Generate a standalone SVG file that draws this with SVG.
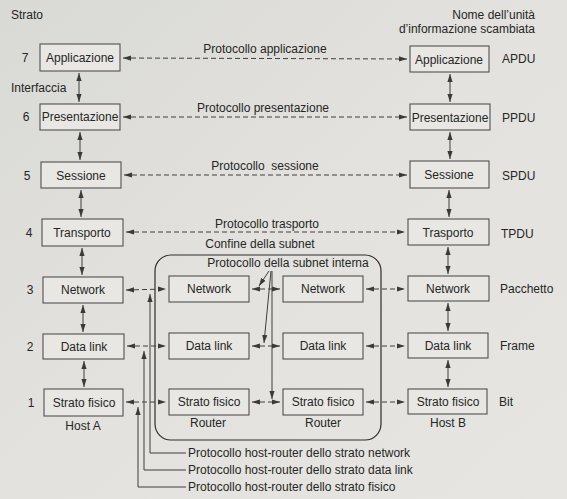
<svg xmlns="http://www.w3.org/2000/svg" width="567" height="499" viewBox="0 0 567 499">
<defs>
<linearGradient id="bg" x1="0" y1="0" x2="1" y2="1">
<stop offset="0" stop-color="#d9d9d5"/>
<stop offset="0.5" stop-color="#e3e2de"/>
<stop offset="1" stop-color="#e6e5e1"/>
</linearGradient>
<marker id="ah" viewBox="0 0 8 6" refX="8" refY="3" markerWidth="8" markerHeight="6" markerUnits="userSpaceOnUse" orient="auto-start-reverse">
<path d="M0,0.4 L8,3 L0,5.6 z" fill="#3a3a3a"/>
</marker>
<style>
text{font-family:"Liberation Sans",Arial,sans-serif;font-size:12px;fill:#262626}
.box{fill:#e8e7e3;stroke:#505050;stroke-width:1.1}
.bt{text-anchor:middle}
.dash{stroke:#3e3e3e;stroke-width:1;stroke-dasharray:5 3;fill:none;marker-start:url(#ah);marker-end:url(#ah)}
.sol{stroke:#3e3e3e;stroke-width:1;fill:none}
.dbl{marker-start:url(#ah);marker-end:url(#ah)}
.one{marker-end:url(#ah)}
.num{text-anchor:middle}
</style>
</defs>
<rect x="0" y="0" width="567" height="499" fill="url(#bg)"/>

<g id="headings">
<text x="11" y="19">Strato</text>
<text x="11" y="92">Interfaccia</text>
<text x="535" y="19" text-anchor="end">Nome dell’unità</text>
<text x="535" y="33" text-anchor="end">d’informazione scambiata</text>
<text class="num" x="25" y="62">7</text>
<text class="num" x="26" y="121">6</text>
<text class="num" x="27" y="180">5</text>
<text class="num" x="29" y="237">4</text>
<text class="num" x="30" y="294">3</text>
<text class="num" x="30" y="351">2</text>
<text class="num" x="31" y="407">1</text>
<text x="502" y="63">APDU</text>
<text x="502" y="122">PPDU</text>
<text x="502" y="180">SPDU</text>
<text x="501" y="238">TPDU</text>
<text x="500" y="293">Pacchetto</text>
<text x="500" y="350">Frame</text>
<text x="499" y="406">Bit</text>
</g>

<g id="subnet">
<rect x="155" y="255" width="226" height="185" rx="16" ry="16" fill="none" stroke="#2e2e2e" stroke-width="1.2"/>
<text class="bt" x="260" y="248">Confine della subnet</text>
<text class="bt" x="288" y="267">Protocollo della subnet interna</text>
</g>

<g id="hostA">
<g id="a7"><rect class="box" x="40" y="44" width="80" height="27"/><text class="bt" x="80" y="62">Applicazione</text></g>
<g id="a6"><rect class="box" x="40" y="104" width="80" height="26"/><text class="bt" x="80" y="121">Presentazione</text></g>
<g id="a5"><rect class="box" x="41" y="162" width="80" height="26"/><text class="bt" x="81" y="180">Sessione</text></g>
<g id="a4"><rect class="box" x="42" y="219" width="81" height="27"/><text class="bt" x="82" y="237">Transporto</text></g>
<g id="a3"><rect class="box" x="43" y="277" width="80" height="26"/><text class="bt" x="83" y="294">Network</text></g>
<g id="a2"><rect class="box" x="43" y="334" width="81" height="25"/><text class="bt" x="84" y="351">Data link</text></g>
<g id="a1"><rect class="box" x="44" y="389" width="79" height="27"/><text class="bt" x="84" y="407">Strato fisico</text></g>
<text class="bt" x="83" y="430">Host A</text>
</g>

<g id="router1">
<g id="r1n"><rect class="box" x="169" y="276" width="80" height="26"/><text class="bt" x="209" y="293">Network</text></g>
<g id="r1d"><rect class="box" x="169" y="333" width="80" height="26"/><text class="bt" x="209" y="350">Data link</text></g>
<g id="r1p"><rect class="box" x="169" y="389" width="80" height="26"/><text class="bt" x="209" y="406">Strato fisico</text></g>
<text class="bt" x="208" y="427">Router</text>
</g>

<g id="router2">
<g id="r2n"><rect class="box" x="283" y="276" width="80" height="26"/><text class="bt" x="323" y="293">Network</text></g>
<g id="r2d"><rect class="box" x="283" y="333" width="80" height="26"/><text class="bt" x="323" y="350">Data link</text></g>
<g id="r2p"><rect class="box" x="283" y="389" width="80" height="26"/><text class="bt" x="323" y="406">Strato fisico</text></g>
<text class="bt" x="323" y="427">Router</text>
</g>

<g id="hostB">
<g id="b7"><rect class="box" x="410" y="46" width="79" height="26"/><text class="bt" x="449" y="64">Applicazione</text></g>
<g id="b6"><rect class="box" x="410" y="104" width="80" height="26"/><text class="bt" x="450" y="122">Presentazione</text></g>
<g id="b5"><rect class="box" x="410" y="161" width="79" height="27"/><text class="bt" x="449" y="179">Sessione</text></g>
<g id="b4"><rect class="box" x="408" y="219" width="81" height="26"/><text class="bt" x="448" y="237">Trasporto</text></g>
<g id="b3"><rect class="box" x="408" y="276" width="81" height="25"/><text class="bt" x="448" y="293">Network</text></g>
<g id="b2"><rect class="box" x="408" y="333" width="80" height="25"/><text class="bt" x="448" y="350">Data link</text></g>
<g id="b1"><rect class="box" x="408" y="389" width="79" height="25"/><text class="bt" x="448" y="406">Strato fisico</text></g>
<text class="bt" x="448" y="427">Host B</text>
</g>

<g id="connectors">
<!-- peer protocols -->
<line class="dash" x1="123" y1="58" x2="407" y2="59"/>
<line class="dash" x1="123" y1="117" x2="407" y2="117"/>
<line class="dash" x1="124" y1="175" x2="407" y2="175"/>
<line class="dash" x1="126" y1="232" x2="405" y2="232"/>
<line class="dash" x1="126" y1="290" x2="166" y2="289"/>
<line class="dash" x1="252" y1="289" x2="280" y2="289"/>
<line class="dash" x1="366" y1="289" x2="405" y2="289"/>
<line class="dash" x1="127" y1="346" x2="166" y2="346"/>
<line class="dash" x1="252" y1="346" x2="280" y2="346"/>
<line class="dash" x1="366" y1="346" x2="405" y2="346"/>
<line class="dash" x1="126" y1="402" x2="166" y2="402"/>
<line class="dash" x1="252" y1="402" x2="280" y2="402"/>
<line class="dash" x1="366" y1="402" x2="405" y2="402"/>
<!-- interfaces host A -->
<line class="sol dbl" x1="79" y1="73" x2="79" y2="102"/>
<line class="sol dbl" x1="80" y1="132" x2="80" y2="160"/>
<line class="sol dbl" x1="81" y1="190" x2="81" y2="217"/>
<line class="sol dbl" x1="82" y1="248" x2="82" y2="275"/>
<line class="sol dbl" x1="83" y1="305" x2="83" y2="332"/>
<line class="sol dbl" x1="84" y1="361" x2="84" y2="387"/>
<!-- interfaces host B -->
<line class="sol dbl" x1="450" y1="74" x2="450" y2="102"/>
<line class="sol dbl" x1="450" y1="132" x2="450" y2="159"/>
<line class="sol dbl" x1="449" y1="190" x2="449" y2="217"/>
<line class="sol dbl" x1="448" y1="247" x2="448" y2="274"/>
<line class="sol dbl" x1="448" y1="303" x2="448" y2="331"/>
<line class="sol dbl" x1="448" y1="360" x2="448" y2="387"/>
<!-- subnet internal protocol pointers -->
<line class="sol one" x1="269" y1="271" x2="259" y2="286"/>
<line class="sol one" x1="271" y1="271" x2="264" y2="343"/>
<line class="sol one" x1="272" y1="271" x2="272" y2="399"/>
<!-- host-router protocols -->
<polyline class="sol one" points="186,453 150,453 150,294"/>
<polyline class="sol one" points="186,470 144,470 144,351"/>
<polyline class="sol one" points="186,487 138,487 138,407"/>
</g>

<g id="hr-labels">
<text x="188" y="457">Protocollo host-router dello strato network</text>
<text x="188" y="474">Protocollo host-router dello strato data link</text>
<text x="188" y="491">Protocollo host-router dello strato fisico</text>
<text class="bt" x="265" y="53">Protocollo applicazione</text>
<text class="bt" x="263" y="112">Protocollo presentazione</text>
<text class="bt" x="265" y="170" xml:space="preserve">Protocollo  sessione</text>
<text class="bt" x="267" y="228">Protocollo trasporto</text>
</g>
</svg>
